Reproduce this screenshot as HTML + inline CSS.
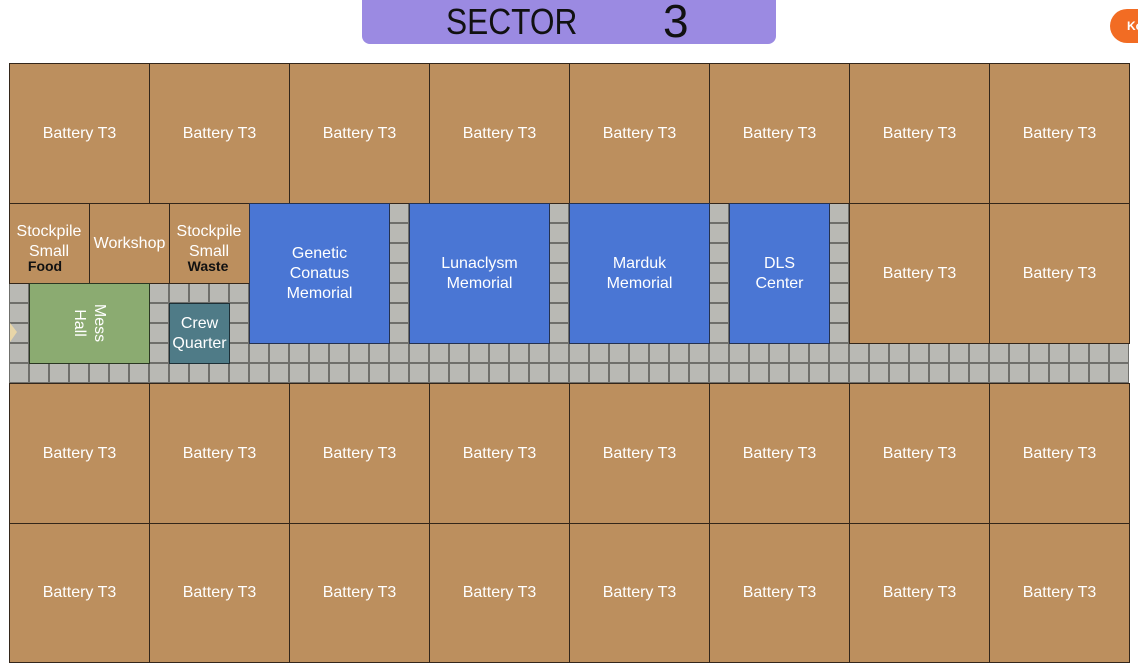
<!DOCTYPE html>
<html>
<head>
<meta charset="utf-8">
<style>
  html, body { margin:0; padding:0; background:#fff; }
  body { width:1138px; height:670px; overflow:hidden; position:relative; font-family:"Liberation Sans", sans-serif; }
  .title { position:absolute; left:362px; top:0; width:414px; height:44px; background:#9b8ae2; border-radius:0 0 8px 8px; }
  .btn { position:absolute; left:1110px; top:9px; width:60px; height:34px; border-radius:17px; background:#f26c23; color:#fff; font-weight:bold; font-size:12px; line-height:34px; padding-left:17px; box-sizing:border-box; }
  .tiles { position:absolute; left:9px; top:203px; width:1120px; height:180px; background-color:#b9b9b4;
    background-image:
      linear-gradient(90deg, #6f6f6b 0, #6f6f6b 1px, transparent 1px, transparent 19px, #6f6f6b 19px, #6f6f6b 20px),
      linear-gradient(0deg, #6f6f6b 0, #6f6f6b 1px, transparent 1px, transparent 19px, #6f6f6b 19px, #6f6f6b 20px);
    background-size:20px 20px; }
  .r { position:absolute; box-sizing:border-box; border:1px solid #33261a; color:#fff; font-size:16px; line-height:20px; text-align:center; display:flex; align-items:center; justify-content:center; }
  .b { background:#bc8f5e; width:141px; height:141px; }
  .m { background:#4a76d4; border-color:#24314f; }
  .g { background:#8bab71; border-color:#2a3722; }
  .c { background:#4f7b87; border-color:#1d2f36; }
  .lbl { position:absolute; color:#fff; font-size:16px; line-height:20px; text-align:center; white-space:nowrap; }
  .blk { position:absolute; color:#111; font-weight:bold; font-size:14px; line-height:16px; text-align:center; }
</style>
</head>
<body>
<div class="title"></div>
<span style="position:absolute;left:446px;top:2px;font-size:36px;color:#111;line-height:40px;transform-origin:left center;transform:scaleX(0.88);">SECTOR</span>
<span style="position:absolute;left:663px;top:-4px;font-size:46px;color:#111;line-height:50px;">3</span>
<div class="btn">Ko</div>

<div class="tiles"></div>

<!-- row 1 -->
<div class="r b" style="left:9px;top:63px;">Battery T3</div>
<div class="r b" style="left:149px;top:63px;">Battery T3</div>
<div class="r b" style="left:289px;top:63px;">Battery T3</div>
<div class="r b" style="left:429px;top:63px;">Battery T3</div>
<div class="r b" style="left:569px;top:63px;">Battery T3</div>
<div class="r b" style="left:709px;top:63px;">Battery T3</div>
<div class="r b" style="left:849px;top:63px;">Battery T3</div>
<div class="r b" style="left:989px;top:63px;">Battery T3</div>

<!-- row 2 -->
<div class="r b" style="left:9px;top:203px;width:81px;height:81px;"></div>
<div class="lbl" style="left:9px;top:222px;width:80px;">Stockpile<br>Small</div>
<div class="blk" style="left:5px;top:258px;width:80px;">Food</div>
<div class="r b" style="left:89px;top:203px;width:81px;height:81px;">Workshop</div>
<div class="r b" style="left:169px;top:203px;width:81px;height:81px;"></div>
<div class="lbl" style="left:169px;top:222px;width:80px;">Stockpile<br>Small</div>
<div class="blk" style="left:168px;top:258px;width:80px;">Waste</div>

<div class="r m" style="left:249px;top:203px;width:141px;height:141px;">Genetic<br>Conatus<br>Memorial</div>
<div class="r m" style="left:409px;top:203px;width:141px;height:141px;">Lunaclysm<br>Memorial</div>
<div class="r m" style="left:569px;top:203px;width:141px;height:141px;">Marduk<br>Memorial</div>
<div class="r m" style="left:729px;top:203px;width:101px;height:141px;">DLS<br>Center</div>
<div class="r b" style="left:849px;top:203px;">Battery T3</div>
<div class="r b" style="left:989px;top:203px;">Battery T3</div>

<div class="r g" style="left:29px;top:283px;width:121px;height:81px;"></div>
<div class="lbl" style="left:59px;top:303px;width:60px;height:40px;transform:rotate(90deg);">Mess<br>Hall</div>
<div class="r c" style="left:169px;top:303px;width:61px;height:61px;">Crew<br>Quarter</div>

<svg style="position:absolute;left:0;top:0;" width="30" height="400">
  <polygon points="10,323 17,332 10,342" fill="#e8d6a8"/>
</svg>

<!-- row 4 -->
<div class="r b" style="left:9px;top:383px;">Battery T3</div>
<div class="r b" style="left:149px;top:383px;">Battery T3</div>
<div class="r b" style="left:289px;top:383px;">Battery T3</div>
<div class="r b" style="left:429px;top:383px;">Battery T3</div>
<div class="r b" style="left:569px;top:383px;">Battery T3</div>
<div class="r b" style="left:709px;top:383px;">Battery T3</div>
<div class="r b" style="left:849px;top:383px;">Battery T3</div>
<div class="r b" style="left:989px;top:383px;">Battery T3</div>

<!-- row 5 -->
<div class="r b" style="left:9px;top:523px;height:140px;">Battery T3</div>
<div class="r b" style="left:149px;top:523px;height:140px;">Battery T3</div>
<div class="r b" style="left:289px;top:523px;height:140px;">Battery T3</div>
<div class="r b" style="left:429px;top:523px;height:140px;">Battery T3</div>
<div class="r b" style="left:569px;top:523px;height:140px;">Battery T3</div>
<div class="r b" style="left:709px;top:523px;height:140px;">Battery T3</div>
<div class="r b" style="left:849px;top:523px;height:140px;">Battery T3</div>
<div class="r b" style="left:989px;top:523px;height:140px;">Battery T3</div>
</body>
</html>
